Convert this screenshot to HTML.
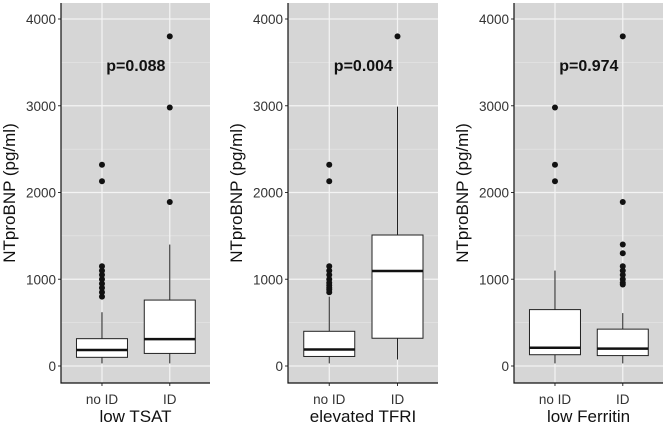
<!DOCTYPE html>
<html><head><meta charset="utf-8"><style>
body{margin:0;background:#fff;}
svg{display:block;font-family:"Liberation Sans",Arial,sans-serif;}
</style></head><body>
<svg id="chart" width="666" height="426"></svg>
<script>
const panelTitles=["low TSAT","elevated TFRI","low Ferritin"];
const pValues=["p=0.088","p=0.004","p=0.974"];
const categories=["no ID","ID"];
const yTicks=[0,1000,2000,3000,4000];
// [low whisker, q1, median, q3, high whisker]
const boxStats=[
 [[30,100,185,315,620],[30,145,310,760,1400]],
 [[30,110,190,400,800],[75,320,1095,1510,2990]],
 [[30,130,210,650,1100],[30,120,200,425,610]]
];
const outliers=[
 [[800,850,900,950,1000,1050,1100,1150,2130,2320],[1890,2980,3800]],
 [[850,880,900,930,960,1000,1050,1100,1150,2130,2320],[3800]],
 [[2130,2320,2980],[940,960,1000,1050,1100,1150,1300,1400,1890,3800]]
];
const NS="http://www.w3.org/2000/svg";
const svgEl=document.getElementById('chart');
function mk(t,a,p){const e=document.createElementNS(NS,t);for(const k in a)e.setAttribute(k,a[k]);(p||svgEl).appendChild(e);return e;}
const panels=[{l:61,r:210},{l:288,r:438},{l:514,r:663}];
const plotTop=3,plotBot=383;
const yScale=v=>366-v*0.08675;
panels.forEach((P,pi)=>{
 const g=mk('g',{});
 
 
 const w=P.r-P.l;
 const x=i=>P.l+w*(0.275+0.455*i);
 const bg=mk('rect',{x:P.l,y:plotTop,width:w,height:plotBot-plotTop,fill:'#d6d6d6'},g);
 
 
 for(let v=500;v<=4000;v+=1000){const l=mk('line',{x1:P.l,x2:P.r,y1:yScale(v),y2:yScale(v),stroke:'#ebebeb','stroke-width':0.6},g);}
 yTicks.forEach(v=>{
  const l=mk('line',{x1:P.l,x2:P.r,y1:yScale(v),y2:yScale(v),stroke:'#f4f4f4','stroke-width':1.2},g);
  
  
  const tk=mk('line',{x1:P.l-3,x2:P.l,y1:yScale(v),y2:yScale(v),stroke:'#333'},g);
  
  
  const t=mk('text',{x:P.l-5,y:yScale(v)+5,'text-anchor':'end','font-size':13.5,fill:'#333'},g);
  t.textContent=v;
  
  
 });
 categories.forEach((c,i)=>{
  const l=mk('line',{x1:x(i),x2:x(i),y1:plotTop,y2:plotBot,stroke:'#f4f4f4','stroke-width':1.2},g);
  
  
  const s=boxStats[pi][i];
  const bw=51;
  const wh=mk('line',{x1:x(i),x2:x(i),y1:yScale(s[0]),y2:yScale(s[4]),stroke:'#222','stroke-width':1},g);
  
  
  const b=mk('rect',{x:x(i)-bw/2,y:yScale(s[3]),width:bw,height:yScale(s[1])-yScale(s[3]),fill:'#fff',stroke:'#222','stroke-width':1},g);
  
  
  const m=mk('line',{x1:x(i)-bw/2,x2:x(i)+bw/2,y1:yScale(s[2]),y2:yScale(s[2]),stroke:'#111','stroke-width':2.5},g);
  
  
  outliers[pi][i].forEach(v=>{
   const o=mk('circle',{cx:x(i),cy:yScale(v),r:3,fill:'#111'},g);
   
   
  });
  const tk=mk('line',{x1:x(i),x2:x(i),y1:plotBot,y2:plotBot+3,stroke:'#333'},g);
  
  
  const t=mk('text',{x:x(i),y:404,'text-anchor':'middle','font-size':13.5,fill:'#333'},g);
  t.textContent=c;
  
  
 });
 const ax=mk('path',{d:`M${P.l},${plotTop}V${plotBot}H${P.r}`,fill:'none',stroke:'#111','stroke-width':1.2},g);
 
 
 const pv=mk('text',{x:(x(0)+x(1))/2,y:71,'text-anchor':'middle','font-size':16,'font-weight':'bold',fill:'#111'},g);
 pv.textContent=pValues[pi];
 
 
 const xt=mk('text',{x:(P.l+P.r)/2,y:422,'text-anchor':'middle','font-size':17,fill:'#111'},g);
 xt.textContent=panelTitles[pi];
 
 
 const yx=P.l-46;
 const yt=mk('text',{x:yx,y:193,'text-anchor':'middle','font-size':17,fill:'#111',transform:`rotate(-90 ${yx} 193)`},g);
 yt.textContent='NTproBNP (pg/ml)';
 
 
});
</script>
</body></html>
